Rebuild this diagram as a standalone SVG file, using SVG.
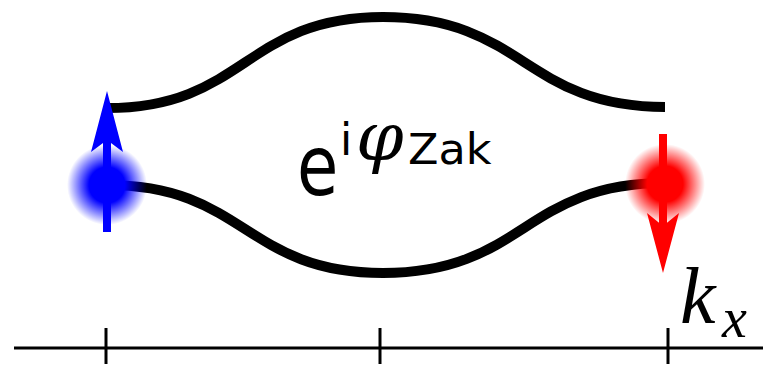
<svg xmlns="http://www.w3.org/2000/svg" width="763" height="366" viewBox="0 0 763 366">
<style>
.curve{fill:none;stroke:#000;stroke-width:10;stroke-linecap:butt}
.axis{stroke:#000;stroke-width:3;fill:none}
.sans{font-family:"DejaVu Sans","Liberation Sans",sans-serif;fill:#000}
.math{font-family:"Liberation Serif","DejaVu Serif",serif;font-style:italic;fill:#000}
.phi{font-family:"DejaVu Serif","Liberation Serif",serif;font-style:italic;fill:#000}
</style>
<defs>
<radialGradient id="gBlue">
<stop offset="0" stop-color="#0000ff" stop-opacity="1"/>
<stop offset="0.45" stop-color="#0000ff" stop-opacity="1"/>
<stop offset="1" stop-color="#0000ff" stop-opacity="0"/>
</radialGradient>
<radialGradient id="gRed">
<stop offset="0" stop-color="#ff0000" stop-opacity="1"/>
<stop offset="0.45" stop-color="#ff0000" stop-opacity="1"/>
<stop offset="1" stop-color="#ff0000" stop-opacity="0"/>
</radialGradient>
</defs>
<g id="axis">
<line class="axis" x1="14" y1="348" x2="763" y2="348"/>
<line class="axis" x1="106" y1="328" x2="106" y2="364"/>
<line class="axis" x1="380" y1="328" x2="380" y2="364"/>
<line class="axis" x1="668" y1="328" x2="668" y2="364"/>
</g>
<g id="connectors">
<path class="curve" d="M107,108 C245,108 245,17 383,17 C524,17 524,107 665,107"/>
<path class="curve" d="M107,185 C245,185 245,273 383,273 C524,273 524,183 665,183"/>
</g>
<g id="blue-point">
<circle cx="107" cy="185" r="40" fill="url(#gBlue)"/>
<rect x="103" y="140" width="8" height="92" fill="#0000ff"/>
<polygon points="107,91 123,152 107,140 91,152" fill="#0000ff"/>
</g>
<g id="red-point">
<circle cx="665" cy="184" r="40" fill="url(#gRed)"/>
<rect x="659" y="134" width="8" height="92" fill="#ff0000"/>
<polygon points="663,273 647,213 663,226 679,213" fill="#ff0000"/>
</g>
<g id="label-zak">
<text class="sans" font-size="84" transform="translate(297,195) scale(0.8,1)">e</text>
<text class="sans" font-size="44" x="340" y="155">i</text>
<text class="phi" font-size="68" x="356" y="160">φ</text>
<text class="sans" font-size="42" transform="translate(408,164) scale(1.06,1)">Zak</text>
</g>
<g id="label-kx">
<text class="math" font-size="80" x="680" y="323">k</text>
<text class="math" font-size="56" x="722" y="337">x</text>
</g>
</svg>
